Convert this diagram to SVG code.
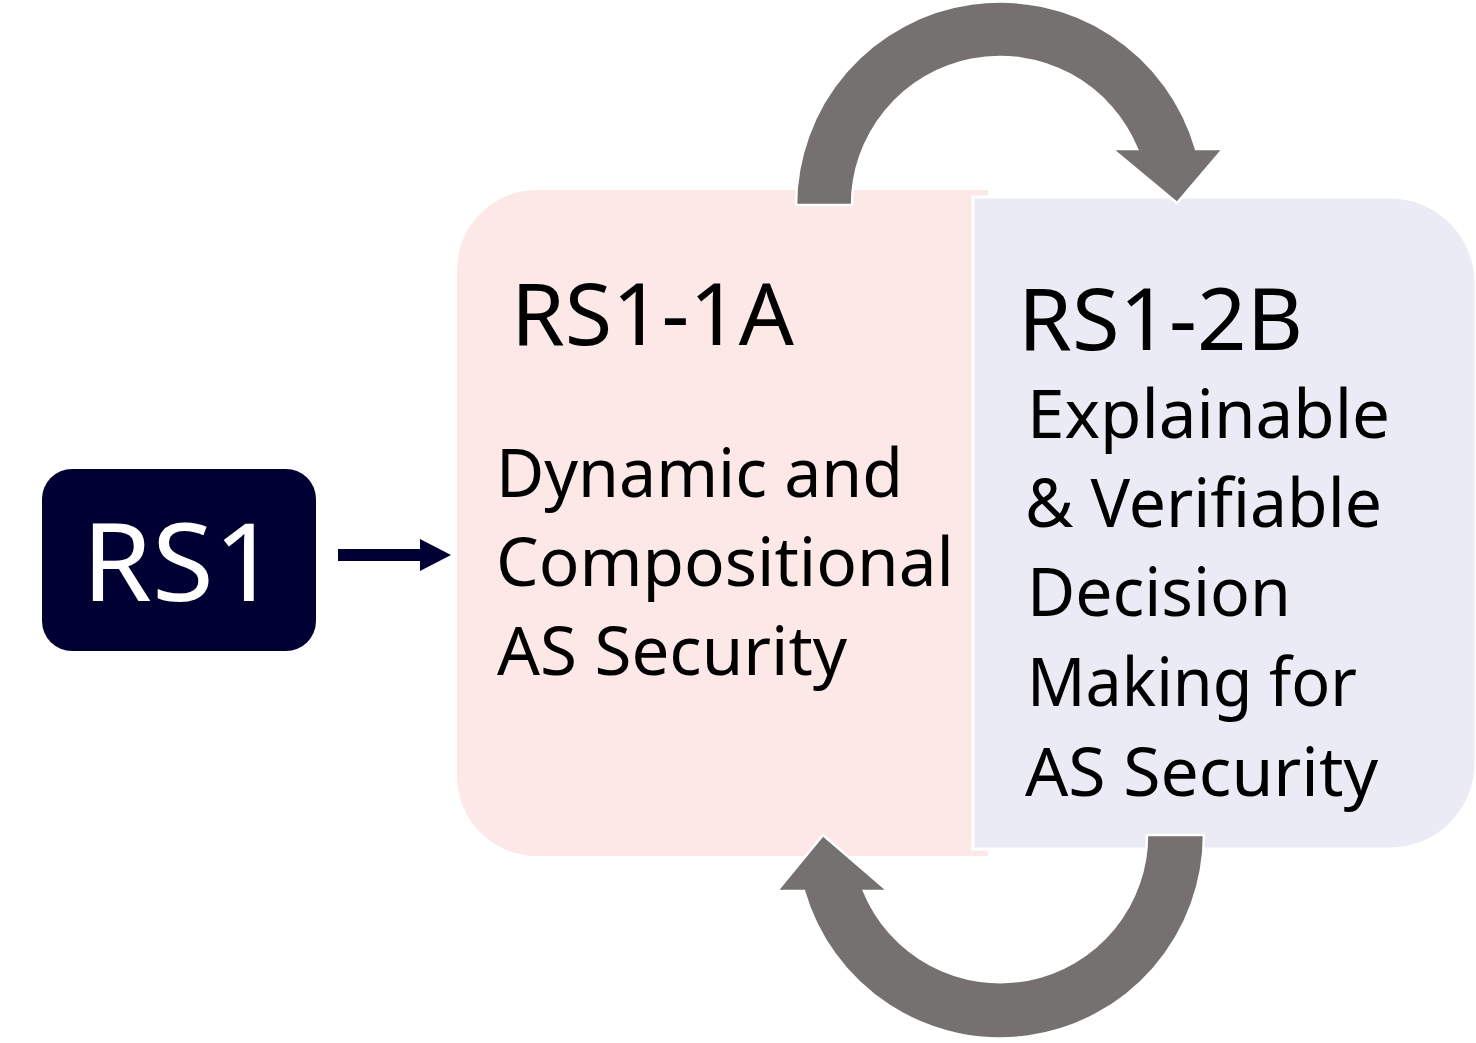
<svg xmlns="http://www.w3.org/2000/svg" width="1476" height="1043" viewBox="0 0 1476 1043">
<style>
.t{font-family:"Noto Sans","Liberation Sans",sans-serif;fill:#000000}
.big{font-size:86px}
.body{font-size:68px}
.cyc{fill:#767171;stroke:#ffffff;stroke-width:2.5;stroke-linejoin:miter}
</style>
<rect width="1476" height="1043" fill="#ffffff"/>
<g id="node-rs1-1a">
<path d="M537,190 H988 V856 H537 A80 80 0 0 1 457,776 V270 A80 80 0 0 1 537,190 Z" fill="#FCE8E7"/>
<text class="t big" x="511" y="345" textLength="283" lengthAdjust="spacingAndGlyphs">RS1-1A</text>
<text class="t body" x="496" y="497" textLength="407" lengthAdjust="spacingAndGlyphs">Dynamic and</text>
<text class="t body" x="496" y="586" textLength="458" lengthAdjust="spacingAndGlyphs">Compositional</text>
<text class="t body" x="497" y="675" textLength="350" lengthAdjust="spacingAndGlyphs">AS Security</text>
</g>
<g id="node-rs1-2b">
<path d="M973,197 H1390 A86 86 0 0 1 1476,283 V763 A86 86 0 0 1 1390,849 H973 Z" fill="#EBEBF5" stroke="#ffffff" stroke-width="3"/>
<text class="t big" x="1018" y="350" textLength="285" lengthAdjust="spacingAndGlyphs">RS1-2B</text>
<text class="t body" x="1027" y="438" textLength="363" lengthAdjust="spacingAndGlyphs">Explainable</text>
<text class="t body" x="1025" y="527" textLength="357" lengthAdjust="spacingAndGlyphs">&amp; Verifiable</text>
<text class="t body" x="1027" y="616" textLength="264" lengthAdjust="spacingAndGlyphs">Decision</text>
<text class="t body" x="1027" y="706" textLength="330" lengthAdjust="spacingAndGlyphs">Making for</text>
<text class="t body" x="1025" y="796" textLength="353" lengthAdjust="spacingAndGlyphs">AS Security</text>
</g>
<g id="node-rs1">
<rect x="42" y="469" width="274" height="182" rx="30" ry="30" fill="#000033"/>
<text x="82" y="601" font-family="Noto Sans, Liberation Sans, sans-serif" font-size="108" fill="#ffffff" textLength="196" lengthAdjust="spacingAndGlyphs">RS1</text>
</g>
<g id="connectors">
<path d="M338,549 H420 V539 L451,555 L420,571 V561 H338 Z" fill="#000033"/>
<path class="cyc" d="M796,205 A204 204 0 0 1 1196,149 L1223,149 L1177,203 L1112,149 L1137,149 A148 148 0 0 0 852,205 Z"/>
<path class="cyc" d="M1204,835 A204 204 0 0 1 804,891 L777,891 L823,835 L888,891 L864,891 A147 147 0 0 0 1147,835 Z"/>
</g>
</svg>
